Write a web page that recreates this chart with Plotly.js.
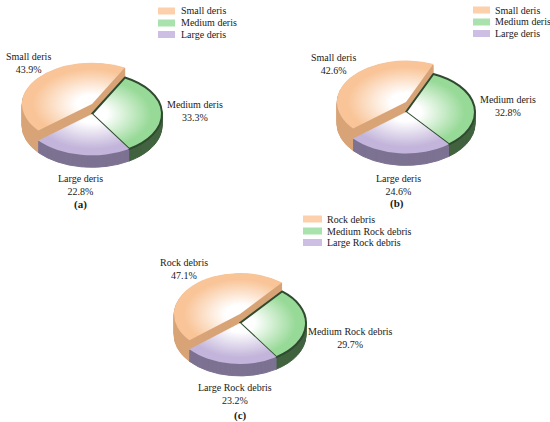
<!DOCTYPE html>
<html>
<head>
<meta charset="utf-8">
<script src="https://cdn.plot.ly/plotly-3.0.1.min.js"></script>
<style>
html,body{margin:0;padding:0;background:#fff;}
#chart{width:550px;height:422px;}
</style>
</head>
<body>
<div id="chart"></div>
<script>
// ---- data ----
const catsA = ['Small deris', 'Medium deris', 'Large deris'];
const valsA = [43.9, 33.3, 22.8];
const catsB = ['Small deris', 'Medium deris', 'Large deris'];
const valsB = [42.6, 32.8, 24.6];
const catsC = ['Rock debris', 'Medium Rock debris', 'Large Rock debris'];
const valsC = [47.1, 29.7, 23.2];
const panelTags = ['(a)', '(b)', '(c)'];

// ---- styles ----
const W = 550, H = 422;
const topColors  = ['#F9C497', '#97D997', '#C2B4DA'];
const sideColors = ['#D8A477', '#42633F', '#7D7292'];
const swatchColors = ['#FCD0AA', '#A9E2AC', '#CDBFE3'];
const FONT = {family: 'Liberation Serif, Times New Roman, serif', size: 10, color: '#1a1a1a'};
const CLEAR = 'rgba(0,0,0,0)';

const pies = [
  {cats: catsA, vals: valsA, tag: panelTags[0], cx: 92,  cy: 114, r: 70, k: 0.59, raise: 10, depth: 12,
   lab: [[28, 62.5], [195, 111], [80, 185.5]], tagPos: [80, 204],
   leg: {sx0: 158, sx1: 175, tx: 179, rows: [11, 23, 34.5]}},
  {cats: catsB, vals: valsB, tag: panelTags[1], cx: 406, cy: 112, r: 69, k: 0.60, raise: 10, depth: 12,
   lab: [[333, 64], [508, 106], [398, 185.5]], tagPos: [397, 203],
   leg: {sx0: 473, sx1: 490, tx: 493, rows: [10, 22, 33.5]}},
  {cats: catsC, vals: valsC, tag: panelTags[2], cx: 240, cy: 323, r: 66, k: 0.62, raise: 9, depth: 12,
   lab: [[184, 269], [350, 337.5], [235, 394]], tagPos: [240, 415],
   leg: {sx0: 303, sx1: 322, tx: 325, rows: [219, 231, 242.5]}}
];

const data = [];
const layerInfo = [];
function addTrace(pi, p, colors, lineColors, lineWidths, off, grad) {
  data.push({
    type: 'pie', values: p.vals, labels: p.cats, sort: false, direction: 'clockwise', rotation: 230,
    textinfo: 'none', hoverinfo: 'skip', showlegend: false,
    domain: {x: [(p.cx - p.r) / W, (p.cx + p.r) / W], y: [1 - (p.cy + p.r) / H, 1 - (p.cy - p.r) / H]},
    marker: {colors: colors, line: {color: lineColors, width: lineWidths}}
  });
  layerInfo.push({pie: pi, off: off, k: p.k, grad: grad, colors: colors});
}

pies.forEach((p, pi) => {
  // side walls (all slices)
  for (let d = p.depth; d >= 1; d--) {
    addTrace(pi, p, sideColors, sideColors, [1, 1, 1], d, false);
  }
  // raised wall of the lifted first slice
  for (let d = 0; d > -p.raise; d--) {
    addTrace(pi, p, [sideColors[0], CLEAR, CLEAR], [sideColors[0], CLEAR, CLEAR], [1, 0, 0], d, false);
  }
  // top surfaces of the other slices
  addTrace(pi, p, [CLEAR, topColors[1], topColors[2]], [CLEAR, '#2F4A2F', CLEAR], [0, 2, 0], 0, true);
  // top surface of the lifted slice
  addTrace(pi, p, [topColors[0], CLEAR, CLEAR], [CLEAR, CLEAR, CLEAR], [0, 0, 0], -p.raise, true);
});

const annotations = [];
const shapes = [];
pies.forEach(p => {
  p.cats.forEach((c, i) => {
    annotations.push({
      xref: 'paper', yref: 'paper', x: p.lab[i][0] / W, y: 1 - p.lab[i][1] / H,
      xanchor: 'center', yanchor: 'middle', showarrow: false, align: 'center',
      text: c + '<br>' + p.vals[i].toFixed(1) + '%', font: FONT
    });
    annotations.push({
      xref: 'paper', yref: 'paper', x: p.leg.tx / W, y: 1 - p.leg.rows[i] / H,
      xanchor: 'left', yanchor: 'middle', showarrow: false, text: c, font: FONT
    });
    shapes.push({
      type: 'rect', xref: 'paper', yref: 'paper',
      x0: p.leg.sx0 / W, x1: p.leg.sx1 / W,
      y0: 1 - (p.leg.rows[i] + 3.5) / H, y1: 1 - (p.leg.rows[i] - 3.5) / H,
      fillcolor: swatchColors[i], line: {width: 0}
    });
  });
  annotations.push({
    xref: 'paper', yref: 'paper', x: p.tagPos[0] / W, y: 1 - p.tagPos[1] / H,
    xanchor: 'center', yanchor: 'middle', showarrow: false,
    text: '<b>' + p.tag + '</b>', font: Object.assign({}, FONT, {size: 11})
  });
});

const layout = {
  width: W, height: H,
  margin: {l: 0, r: 0, t: 0, b: 0},
  paper_bgcolor: '#ffffff', plot_bgcolor: '#ffffff',
  showlegend: false,
  annotations: annotations,
  shapes: shapes
};

const gd = document.getElementById('chart');
Plotly.newPlot(gd, data, layout, {staticPlot: true, displayModeBar: false}).then(() => {
  const svg = gd.querySelector('.main-svg');
  let defs = svg.querySelector('defs');
  if (!defs) { defs = document.createElementNS('http://www.w3.org/2000/svg', 'defs'); svg.insertBefore(defs, svg.firstChild); }
  const NS = 'http://www.w3.org/2000/svg';
  // gradients per pie & slice (white centre fading to slice colour)
  const made = {};
  function gradFor(pi, j, cd0) {
    const id = 'g' + pi + '_' + j;
    if (made[id]) return id;
    const g = document.createElementNS(NS, 'radialGradient');
    g.setAttribute('id', id);
    g.setAttribute('gradientUnits', 'userSpaceOnUse');
    g.setAttribute('cx', cd0.cx); g.setAttribute('cy', cd0.cy); g.setAttribute('r', cd0.r);
    [[0, '#ffffff'], [0.22, '#ffffff'], [0.85, topColors[j]], [1, topColors[j]]].forEach(s => {
      const st = document.createElementNS(NS, 'stop');
      st.setAttribute('offset', s[0]); st.setAttribute('stop-color', s[1]);
      g.appendChild(st);
    });
    defs.appendChild(g);
    made[id] = true;
    return id;
  }
  gd.querySelectorAll('.pielayer g.trace').forEach(el => {
    const cd = el.__data__;
    const cd0 = cd[0];
    const idx = cd0.trace.index;
    const info = layerInfo[idx];
    const cy = cd0.cy;
    el.setAttribute('transform', 'translate(0,' + (cy * (1 - info.k) + info.off) + ') scale(1,' + info.k + ')');
    el.querySelectorAll('g.slice').forEach(s => {
      const pt = s.__data__;
      const path = s.querySelector('path.surface');
      if (!path) return;
      path.style.vectorEffect = 'non-scaling-stroke';
      const j = pt.i;
      if (info.grad && info.colors[j] !== CLEAR) {
        path.style.fill = 'url(#' + gradFor(info.pie, j, cd0) + ')';
      }
    });
  });
});
</script>
</body>
</html>
